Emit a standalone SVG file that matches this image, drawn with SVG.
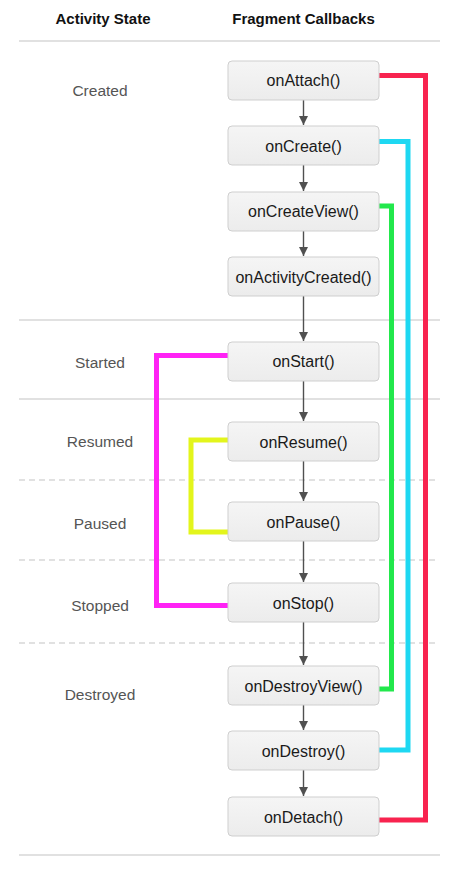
<svg xmlns="http://www.w3.org/2000/svg" width="466" height="882" viewBox="0 0 466 882">
<defs>
<marker id="ah" markerWidth="10" markerHeight="10" refX="9" refY="5" orient="auto" markerUnits="userSpaceOnUse"><path d="M0,0.5 L9,5 L0,9.5 z" fill="#505050"/></marker>
<linearGradient id="ng" x1="0" y1="0" x2="0" y2="1"><stop offset="0" stop-color="#f5f5f5"/><stop offset="1" stop-color="#ececec"/></linearGradient>
</defs>
<style>
.hdr{font-family:"Liberation Sans",Arial,sans-serif;font-size:15px;font-weight:bold;fill:#111;text-anchor:middle}
.st{font-family:"Liberation Sans",Arial,sans-serif;font-size:15.5px;fill:#555;text-anchor:middle}
.nt{font-family:"Liberation Sans",Arial,sans-serif;font-size:16px;fill:#1a1a1a;text-anchor:middle}
.box{fill:url(#ng);stroke:#cfcfcf;stroke-width:1}
.sep{stroke:#c4c4c4;stroke-width:1.2;fill:none}
.dash{stroke:#c4c4c4;stroke-width:1.2;stroke-dasharray:6,4;fill:none}
.arr{stroke:#505050;stroke-width:1.4;fill:none;marker-end:url(#ah)}
.lp{fill:none;stroke-width:5;stroke-linejoin:miter}
</style>
<rect width="466" height="882" fill="#fff"/>
<g id="header">
<text class="hdr" x="103" y="24">Activity State</text>
<text class="hdr" x="303.5" y="24">Fragment Callbacks</text>
</g>
<g id="separators">
<line class="sep" x1="19" y1="41" x2="440" y2="41"/>
<line class="sep" x1="19" y1="320" x2="440" y2="320"/>
<line class="sep" x1="19" y1="399" x2="440" y2="399"/>
<line class="dash" x1="19" y1="480" x2="436" y2="480"/>
<line class="dash" x1="19" y1="560" x2="436" y2="560"/>
<line class="dash" x1="19" y1="643" x2="436" y2="643"/>
<line class="sep" x1="19" y1="855" x2="440" y2="855"/>
</g>
<g id="states">
<text class="st" x="100" y="95.5">Created</text>
<text class="st" x="100" y="367.5">Started</text>
<text class="st" x="100" y="446.5">Resumed</text>
<text class="st" x="100" y="528.5">Paused</text>
<text class="st" x="100" y="610.5">Stopped</text>
<text class="st" x="100" y="699.5">Destroyed</text>
</g>
<g id="connectors">
<line class="arr" x1="303.5" y1="100" x2="303.5" y2="125"/>
<line class="arr" x1="303.5" y1="165" x2="303.5" y2="191"/>
<line class="arr" x1="303.5" y1="231" x2="303.5" y2="256"/>
<line class="arr" x1="303.5" y1="296" x2="303.5" y2="341"/>
<line class="arr" x1="303.5" y1="381" x2="303.5" y2="421"/>
<line class="arr" x1="303.5" y1="461" x2="303.5" y2="501"/>
<line class="arr" x1="303.5" y1="541" x2="303.5" y2="582"/>
<line class="arr" x1="303.5" y1="622" x2="303.5" y2="665"/>
<line class="arr" x1="303.5" y1="705" x2="303.5" y2="730"/>
<line class="arr" x1="303.5" y1="770" x2="303.5" y2="796"/>
<polyline class="lp" stroke="#f8234f" points="379,75.5 425.5,75.5 425.5,820 379,820"/>
<polyline class="lp" stroke="#1ed8f2" points="377,141.5 408,141.5 408,750 377,750"/>
<polyline class="lp" stroke="#22e84c" points="379,206 391.5,206 391.5,689 379,689"/>
<polyline class="lp" stroke="#ff22f5" points="228,355.5 156.5,355.5 156.5,605.5 228,605.5"/>
<polyline class="lp" stroke="#e3f51c" points="228,440 191,440 191,532 228,532"/>
</g>
<g id="onAttach"><rect class="box" x="228" y="61" width="151" height="39" rx="4"/><text class="nt" x="303.5" y="86">onAttach()</text></g>
<g id="onCreate"><rect class="box" x="228" y="126" width="151" height="39" rx="4"/><text class="nt" x="303.5" y="151.5">onCreate()</text></g>
<g id="onCreateView"><rect class="box" x="228" y="192" width="151" height="39" rx="4"/><text class="nt" x="303.5" y="217">onCreateView()</text></g>
<g id="onActivityCreated"><rect class="box" x="228" y="257" width="151" height="39" rx="4"/><text class="nt" x="303.5" y="282.5">onActivityCreated()</text></g>
<g id="onStart"><rect class="box" x="228" y="342" width="151" height="39" rx="4"/><text class="nt" x="303.5" y="367">onStart()</text></g>
<g id="onResume"><rect class="box" x="228" y="422" width="151" height="39" rx="4"/><text class="nt" x="303.5" y="447.5">onResume()</text></g>
<g id="onPause"><rect class="box" x="228" y="502" width="151" height="39" rx="4"/><text class="nt" x="303.5" y="527.5">onPause()</text></g>
<g id="onStop"><rect class="box" x="228" y="583" width="151" height="39" rx="4"/><text class="nt" x="303.5" y="608.5">onStop()</text></g>
<g id="onDestroyView"><rect class="box" x="228" y="666" width="151" height="39" rx="4"/><text class="nt" x="303.5" y="691.5">onDestroyView()</text></g>
<g id="onDestroy"><rect class="box" x="228" y="731" width="151" height="39" rx="4"/><text class="nt" x="303.5" y="756.5">onDestroy()</text></g>
<g id="onDetach"><rect class="box" x="228" y="797" width="151" height="39" rx="4"/><text class="nt" x="303.5" y="822.5">onDetach()</text></g>
</svg>
